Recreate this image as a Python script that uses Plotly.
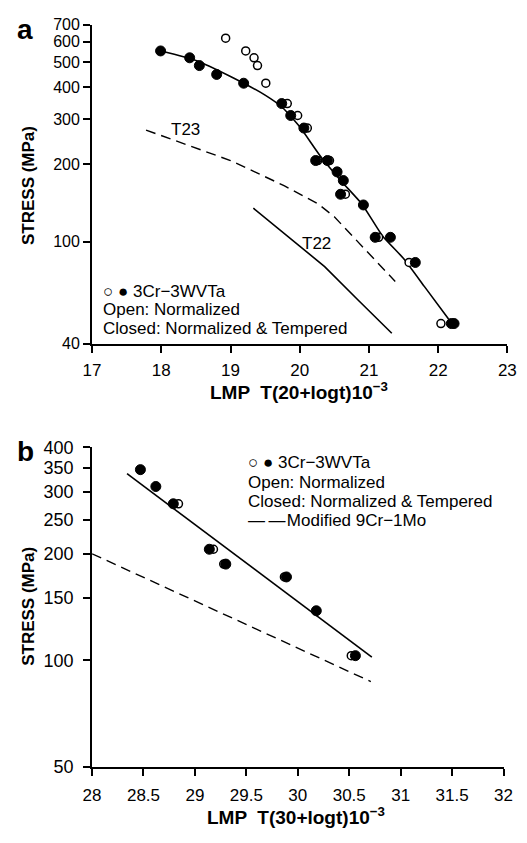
import numpy as np
import plotly.graph_objects as go

# ---------------- Panel a data ----------------
a_closed_x = [17.99, 18.41, 18.55, 18.80, 19.19, 19.74, 19.87, 20.06, 20.23, 20.40,
              20.54, 20.63, 20.59, 20.92, 21.09, 21.31, 21.67, 22.19, 22.23]
a_closed_y = [553, 520, 485, 448, 414, 345, 310, 277, 207, 207,
              187, 173, 153, 139, 104, 104, 83, 48, 48]
a_open_x = [18.93, 19.22, 19.34, 19.39, 19.51, 19.82, 19.97, 20.11, 20.26, 20.43,
            20.66, 21.14, 21.58, 22.04]
a_open_y = [620, 553, 520, 485, 414, 345, 310, 277, 207, 207,
            153, 104, 83, 48]
a_fit_x = [18.0, 18.5, 19.0, 19.5, 19.75, 20.0, 20.3, 20.6, 20.9, 21.2, 21.5, 21.8, 22.15]
a_fit_y = [553, 508, 440, 372, 333, 280, 215, 172, 140, 105, 86, 67, 50]
t23_x = [17.78, 19.0, 19.78, 20.27, 20.5, 21.38]
t23_y = [272, 207, 165, 140, 125, 70]
t22_x = [19.33, 19.85, 20.36, 20.85, 21.33]
t22_y = [135, 104, 80, 59, 44]
a_yticks = [40, 100, 200, 300, 400, 500, 600, 700]
a_xticks = [17, 18, 19, 20, 21, 22, 23]

# ---------------- Panel b data ----------------
b_closed_x = [28.47, 28.62, 28.79, 29.14, 29.30, 29.89, 30.18, 30.56]
b_closed_y = [346, 310, 277, 206, 187, 172, 138, 103]
b_open_x = [28.84, 29.18, 29.28, 29.87, 30.52]
b_open_y = [277, 206, 187, 172, 103]
b_fit_x = [28.34, 30.72]
b_fit_y = [337, 102]
b_9cr_x = [28.0, 30.71]
b_9cr_y = [200, 87]
b_yticks = [50, 100, 150, 200, 250, 300, 350, 400]
b_xticks = [28, 28.5, 29, 29.5, 30, 30.5, 31, 31.5, 32]

W, H = 527, 843
FONT = "Liberation Sans, Arial, sans-serif"

def px(x):
    return x / W

def py(y):
    return 1 - y / H

fig = go.Figure()

open_marker = dict(symbol="circle", size=8, color="white", line=dict(color="black", width=1.5))
closed_marker = dict(symbol="circle", size=10, color="black", line=dict(color="black", width=1))

# Panel a
fig.add_trace(go.Scatter(x=a_fit_x, y=a_fit_y, mode="lines",
                         line=dict(color="black", width=1.6, shape="spline", smoothing=0.5),
                         xaxis="x", yaxis="y"))
fig.add_trace(go.Scatter(x=t23_x, y=t23_y, mode="lines",
                         line=dict(color="black", width=1.4, dash="10px,6px"),
                         xaxis="x", yaxis="y"))
fig.add_trace(go.Scatter(x=t22_x, y=t22_y, mode="lines", line=dict(color="black", width=1.6),
                         xaxis="x", yaxis="y"))
fig.add_trace(go.Scatter(x=a_open_x, y=a_open_y, mode="markers", marker=open_marker, xaxis="x", yaxis="y"))
fig.add_trace(go.Scatter(x=a_closed_x, y=a_closed_y, mode="markers", marker=closed_marker, xaxis="x", yaxis="y"))

# Panel b
fig.add_trace(go.Scatter(x=b_fit_x, y=b_fit_y, mode="lines", line=dict(color="black", width=1.6),
                         xaxis="x2", yaxis="y2"))
fig.add_trace(go.Scatter(x=b_9cr_x, y=b_9cr_y, mode="lines", line=dict(color="black", width=1.4, dash="10px,6px"),
                         xaxis="x2", yaxis="y2"))
fig.add_trace(go.Scatter(x=b_open_x, y=b_open_y, mode="markers", marker=open_marker, xaxis="x2", yaxis="y2"))
fig.add_trace(go.Scatter(x=b_closed_x, y=b_closed_y, mode="markers", marker=closed_marker, xaxis="x2", yaxis="y2"))

axis_common = dict(showgrid=False, zeroline=False, showline=True, linecolor="black", linewidth=2,
                   ticks="outside", tickcolor="black", tickwidth=2, ticklen=7,
                   ticklabeloverflow="allow")
xfont = dict(family=FONT, size=17, color="black")
yfont_a = dict(family=FONT, size=16, color="black")
yfont_b = dict(family=FONT, size=18, color="black")

fig.update_layout(
    width=W, height=H,
    margin=dict(l=0, r=0, t=0, b=0),
    paper_bgcolor="white", plot_bgcolor="white",
    showlegend=False,
    xaxis=dict(domain=[px(86), px(516)], range=[17, 23], tickvals=a_xticks, anchor="y",
               tickfont=xfont, ticklabelstandoff=3, **axis_common),
    yaxis=dict(domain=[py(342), py(15)], type="log", range=[np.log10(40), np.log10(700)],
               tickvals=a_yticks, ticktext=[str(v) for v in a_yticks], anchor="x",
               tickfont=yfont_a, ticklabelstandoff=0, **axis_common),
    xaxis2=dict(domain=[px(86), px(512)], range=[28, 32], tickvals=b_xticks,
                ticktext=[("%g" % v) for v in b_xticks], anchor="y2",
                tickfont=xfont, ticklabelstandoff=5, **axis_common),
    yaxis2=dict(domain=[py(775), py(448)], type="log", range=[np.log10(50), np.log10(400)],
                tickvals=b_yticks, ticktext=[str(v) for v in b_yticks], anchor="x2",
                tickfont=yfont_b, ticklabelstandoff=6, **axis_common),
)

ann = []

def add_text(x, y, text, size=16, bold=False, xanchor="left", yanchor="middle", angle=0):
    t = "<b>%s</b>" % text if bold else text
    ann.append(dict(x=px(x), y=py(y), xref="paper", yref="paper", text=t, showarrow=False,
                    xanchor=xanchor, yanchor=yanchor, textangle=angle,
                    font=dict(family=FONT, size=size, color="black")))

# Panel labels
add_text(17, 20, "a", size=28, bold=True, xanchor="center")
add_text(17, 452, "b", size=28, bold=True, xanchor="center")

# Axis titles
add_text(20, 180, "STRESS (MPa)", size=17, bold=True, xanchor="center", angle=-90)
add_text(20, 611, "STRESS (MPa)", size=17, bold=True, xanchor="center", angle=-90)
add_text(300, 390, "LMP  T(20+logt)10<sup>−3</sup>", size=19, bold=True, xanchor="center")
add_text(297, 826, "LMP  T(30+logt)10<sup>−3</sup>", size=19, bold=True, xanchor="center")

# Panel a curve labels
add_text(183, 122, "T23", size=17, xanchor="center")
add_text(318, 239, "T22", size=17, xanchor="center")

SYM = '<span style="font-size:17px">○</span> <span style="font-size:17px">●</span> '

# Panel a legend text
add_text(95, 288, SYM + "3Cr−3WVTa", size=17)
add_text(95, 307, "Open: Normalized", size=17)
add_text(95, 326, "Closed: Normalized &amp; Tempered", size=17)

# Panel b legend text
add_text(245, 464, SYM + "3Cr−3WVTa", size=17)
add_text(245, 484, "Open: Normalized", size=17)
add_text(245, 503, "Closed: Normalized &amp; Tempered", size=17)
add_text(245, 523, "—\u2009—\u200aModified 9Cr−1Mo", size=17)

fig.update_layout(annotations=ann)

fig.write_html("out.html")
